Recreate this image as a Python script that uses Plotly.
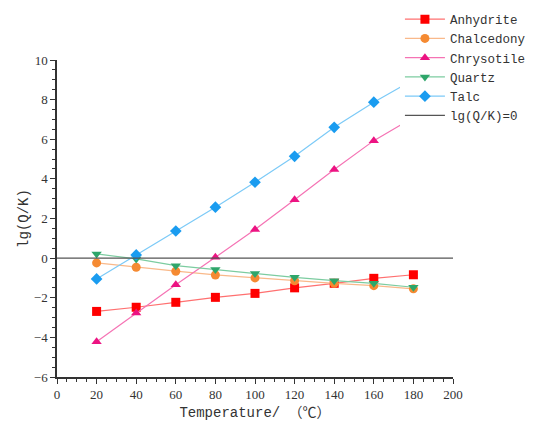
import plotly.graph_objects as go

# Saturation indices of minerals versus temperature
temperature = [20, 40, 60, 80, 100, 120, 140, 160, 180]
anhydrite = [-2.69, -2.48, -2.23, -1.98, -1.78, -1.50, -1.27, -1.02, -0.84]
chalcedony = [-0.24, -0.46, -0.66, -0.85, -1.00, -1.14, -1.27, -1.39, -1.55]
chrysotile = [-4.22, -2.77, -1.34, 0.04, 1.44, 2.95, 4.47, 5.93, 7.10]
quartz = [0.21, -0.04, -0.38, -0.58, -0.78, -0.97, -1.14, -1.27, -1.47]
talc = [-1.05, 0.16, 1.37, 2.57, 3.83, 5.14, 6.60, 7.87, 9.00]
zero_x = [0, 200]
zero_y = [0, 0]

series = [
    ("Anhydrite", anhydrite, "#ff0000", "#ff7070", "square"),
    ("Chalcedony", chalcedony, "#f58a32", "#f9b98a", "circle"),
    ("Chrysotile", chrysotile, "#ec1382", "#f573b4", "triangle-up"),
    ("Quartz", quartz, "#2ea66a", "#7ccca0", "triangle-down"),
    ("Talc", talc, "#1a9cf0", "#7ccaf7", "diamond"),
]

label_font = "Liberation Mono, Noto Sans CJK SC, monospace"
tick_font = "Liberation Serif, Times New Roman, serif"

fig = go.Figure()
for name, vals, mcolor, lcolor, symbol in series:
    fig.add_trace(go.Scatter(
        x=temperature, y=vals, name=name, mode="lines+markers",
        line=dict(color=lcolor, width=1.2),
        marker=dict(color=mcolor, symbol=symbol, size=9,
                    line=dict(width=0)),
    ))

fig.add_trace(go.Scatter(
    x=zero_x, y=zero_y, name="lg(Q/K)=0", mode="lines",
    line=dict(color="#555555", width=1.3),
))

axis_common = dict(
    showline=True, linecolor="#333333", linewidth=1.5,
    ticks="outside", ticklen=5, tickwidth=1.2, tickcolor="#333333",
    showgrid=False, zeroline=False, mirror=False,
    tickfont=dict(family=tick_font, size=13, color="#333333"),
    minor=dict(ticks="outside", ticklen=3, tickwidth=1, tickcolor="#333333"),
)

fig.update_xaxes(
    range=[0, 200], tick0=0, dtick=20,
    title=dict(text="Temperature/ （℃）",
               font=dict(family=label_font, size=14, color="#333333"),
               standoff=6),
    **axis_common,
)
fig.update_yaxes(
    range=[-6, 10], tick0=-6, dtick=2,
    title=dict(text="lg(Q/K)",
               font=dict(family=label_font, size=14, color="#333333"),
               standoff=2),
    **axis_common,
)

fig.update_layout(
    width=535, height=428,
    margin=dict(l=57, r=82, t=60, b=51, autoexpand=False),
    plot_bgcolor="white", paper_bgcolor="white",
    legend=dict(
        x=0.866, y=1.175, xanchor="left", yanchor="top",
        bgcolor="white", borderwidth=0,
        font=dict(family=label_font, size=12.5, color="#333333"),
        itemwidth=40, tracegroupgap=0,
    ),
    showlegend=True,
)

fig.write_html("out.html")
